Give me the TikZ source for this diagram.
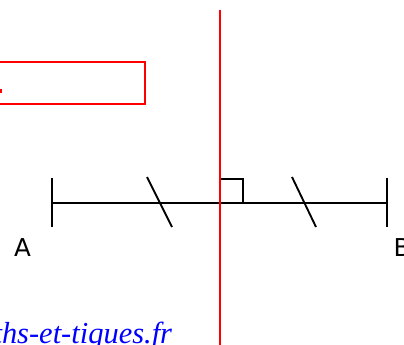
\documentclass[tikz,border=0pt]{standalone}
\usepackage{fontspec}
\setmainfont{Liberation Serif}
\newfontfamily\lettres{DejaVu Sans}
\usetikzlibrary{positioning,calc}
\definecolor{rouge}{RGB}{255,0,0}
\definecolor{bleu}{RGB}{0,0,255}

\begin{document}
\begin{tikzpicture}[x=0.03cm,y=-0.03cm,line width=1.6pt]
\useasboundingbox (0,0) rectangle (404,344);
% points du segment
\coordinate (A) at (52,203);
\coordinate (B) at (387,203);
\coordinate (M) at (220,203);
\coordinate (haut) at (220,10);
\coordinate (bas) at (220,350);
% segment [AB]
\draw (A) -- (B);
\draw ($(A)+(0,-25)$) -- ($(A)+(0,24)$);
\draw ($(B)+(0,-25)$) -- ($(B)+(0,24)$);
% codage
\draw (147,177) -- (172,227);
\draw (292,177) -- (316,227);
\draw (M) ++(0,-24) -- ++(23,0) -- ++(0,24);
% mediatrice
\draw[rouge] (haut) -- (bas);
\node[draw=rouge,minimum width=6cm,minimum height=1.26cm,anchor=north east,inner sep=0] (cadre) at (146,61) {};
\fill[rouge] (0,89) rectangle (2,93);
% lettres
\node[font=\lettres\fontsize{21}{21}\selectfont,inner sep=0] (lA) at (22.5,248) {A};
\node[font=\lettres\fontsize{21}{21}\selectfont,inner sep=0] (lB) at (402,248) {B};
\node[anchor=base east,text=bleu,font=\itshape\fontsize{26}{26}\selectfont,inner sep=0] (site) at (173,343) {maths-et-tiques.fr};
\end{tikzpicture}
\end{document}
